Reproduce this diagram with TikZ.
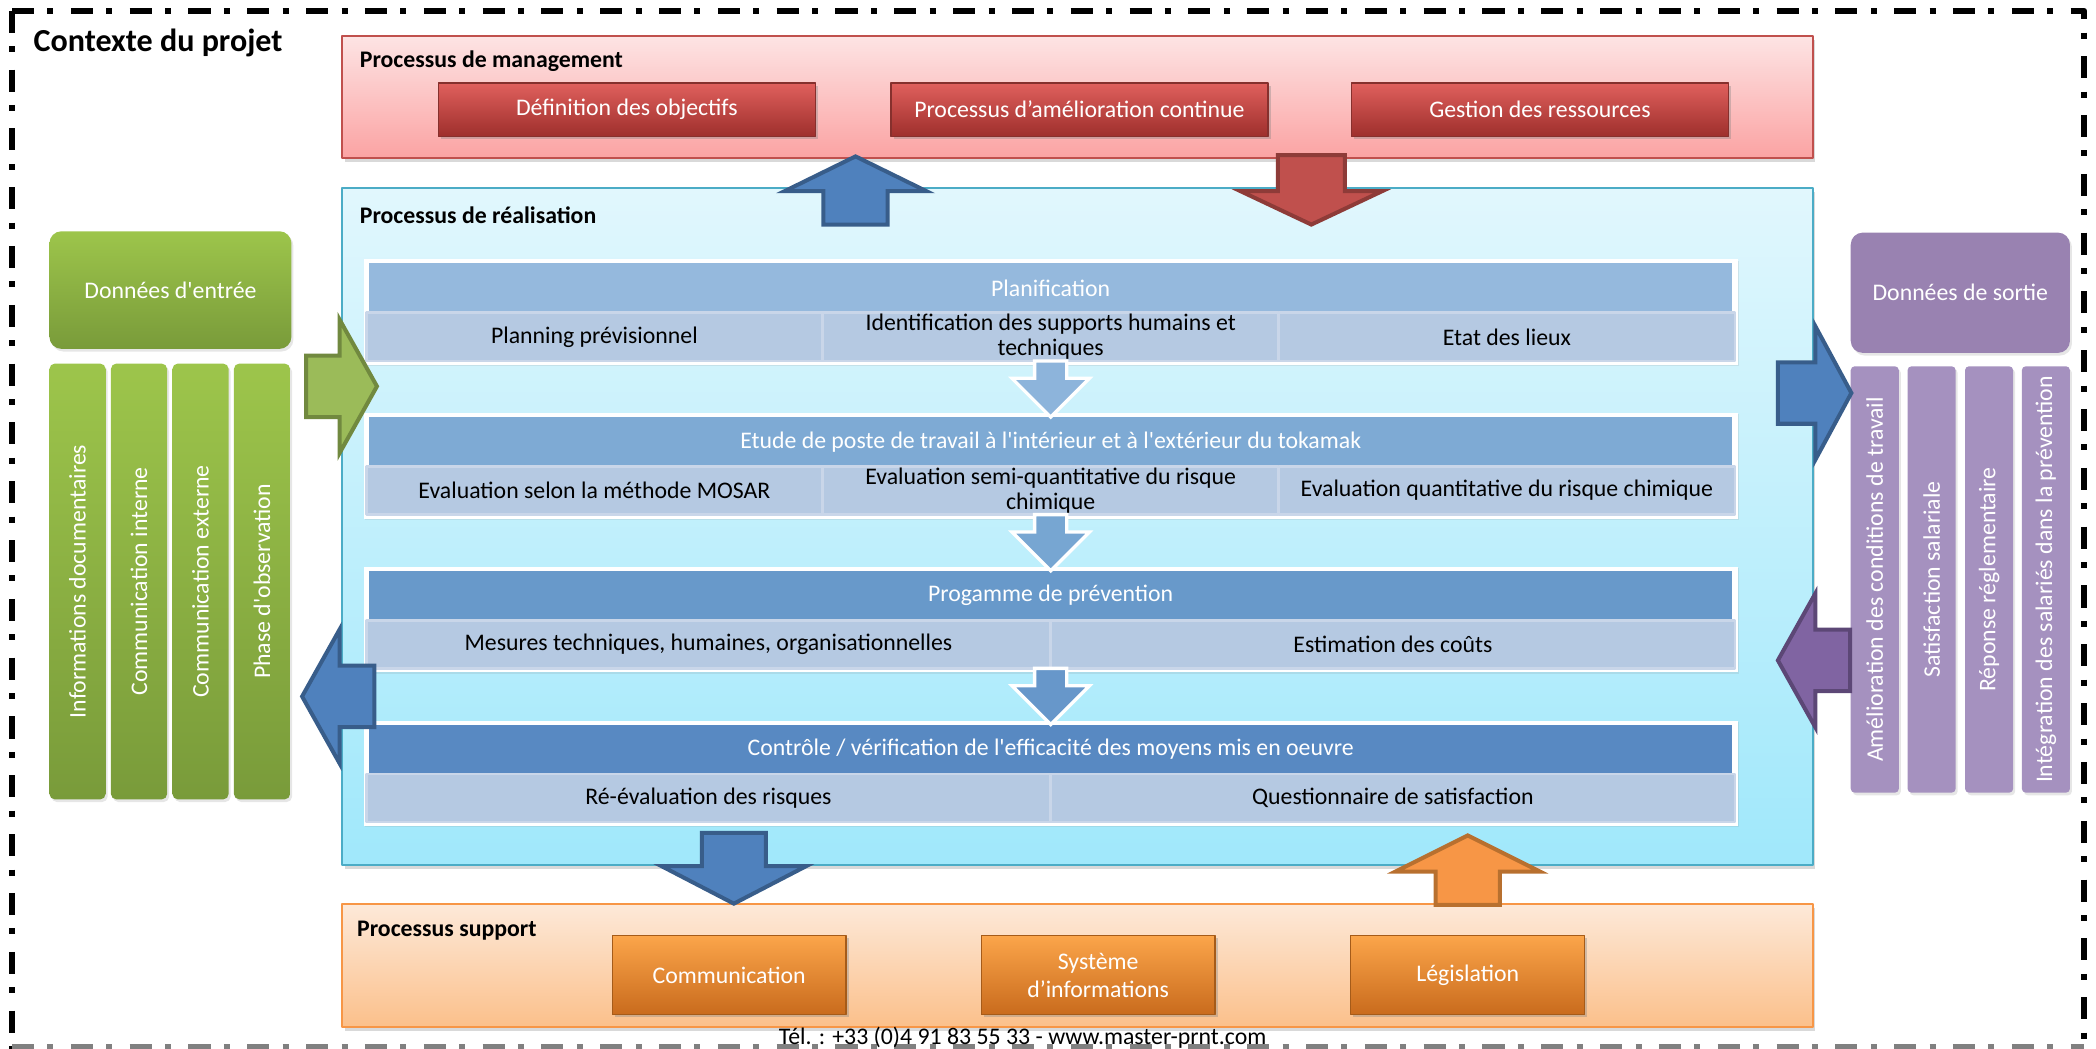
\documentclass[tikz,border=0pt]{standalone}
\usepackage{fontspec}
\setmainfont{Carlito}[Ligatures=TeXOff]
\usepackage{tikz}
\usetikzlibrary{shadows}
\definecolor{cq5q4d}{HTML}{C0504D}
\definecolor{8e3b38}{HTML}{8E3B38}
\definecolor{fde4e4}{HTML}{FDE4E4}
\definecolor{fba3a3}{HTML}{FBA3A3}
\definecolor{e0605d}{HTML}{E0605D}
\definecolor{cd4340}{HTML}{CD4340}
\definecolor{9e2f2c}{HTML}{9E2F2C}
\definecolor{86302d}{HTML}{86302D}
\definecolor{4bacc6}{HTML}{4BACC6}
\definecolor{e1f7fd}{HTML}{E1F7FD}
\definecolor{aqe8fb}{HTML}{A0E8FB}
\definecolor{f79646}{HTML}{F79646}
\definecolor{b8702f}{HTML}{B8702F}
\definecolor{fde9d9}{HTML}{FDE9D9}
\definecolor{fbc08b}{HTML}{FBC08B}
\definecolor{fba54a}{HTML}{FBA54A}
\definecolor{f48d2c}{HTML}{F48D2C}
\definecolor{c96b1d}{HTML}{C96B1D}
\definecolor{a55b19}{HTML}{A55B19}
\definecolor{4f81bd}{HTML}{4F81BD}
\definecolor{385d8a}{HTML}{385D8A}
\definecolor{9bbb59}{HTML}{9BBB59}
\definecolor{71893f}{HTML}{71893F}
\definecolor{8q64a2}{HTML}{8064A2}
\definecolor{5c4776}{HTML}{5C4776}
\definecolor{9dc54b}{HTML}{9DC54B}
\definecolor{799b3a}{HTML}{799B3A}
\definecolor{9982b1}{HTML}{9982B1}
\definecolor{a591bf}{HTML}{A591BF}
\definecolor{95b9dd}{HTML}{95B9DD}
\definecolor{7eaad4}{HTML}{7EAAD4}
\definecolor{6899ca}{HTML}{6899CA}
\definecolor{5889c2}{HTML}{5889C2}
\definecolor{b5c9e2}{HTML}{B5C9E2}
\definecolor{c9d6e9}{HTML}{C9D6E9}
\definecolor{8db4db}{HTML}{8DB4DB}
\definecolor{77a6d2}{HTML}{77A6D2}
\definecolor{6797ca}{HTML}{6797CA}

\begin{document}
\begin{tikzpicture}[line cap=round,line join=round,x=1pt,y=-1pt,
    every node/.style={font=\fontsize{17.8}{19}\selectfont},
    cadre/.style={line width=4.5pt,line cap=butt,dash pattern=on 16.5pt off 10pt on 4.5pt off 13pt},
    zone/.style={draw,line width=1.5pt,drop shadow={opacity=0.3,shadow xshift=2pt,shadow yshift=-3pt}},
    etiquette/.style={anchor=west,inner sep=0pt,font=\bfseries\fontsize{17.8}{19}\selectfont},
    bouton/.style={draw,line width=1pt,text=white,align=center,drop shadow={opacity=0.35,shadow xshift=2pt,shadow yshift=-2pt}},
    boutonrouge/.style={bouton,minimum width=282pt,minimum height=40pt,top color=e0605d,middle color=cd4340,bottom color=9e2f2c,draw=86302d},
    boutonorange/.style={bouton,minimum width=175pt,minimum height=59pt,font=\fontsize{17.8}{21}\selectfont,top color=fba54a,middle color=f48d2c,bottom color=c96b1d,draw=a55b19},
    cadreblanc/.style={fill=white,minimum width=1028pt,minimum height=79pt,drop shadow={opacity=0.15,shadow xshift=1pt,shadow yshift=-1pt}},
    entete/.style={text=white,minimum width=1020pt,minimum height=37pt,inner sep=0pt},
    cellule/.style={fill=b5c9e2,draw=c9d6e9,line width=2pt,minimum height=36pt,inner sep=0pt,align=center,font=\fontsize{17.8}{18.5}\selectfont},
    colonne/.style={text=white,inner sep=0pt,rounded corners=4pt,drop shadow={opacity=0.2,shadow xshift=1.5pt,shadow yshift=-2pt}},
    fleche/.style={line width=3pt,line join=miter},
    petitefleche/.style={draw=white,line width=2.5pt,line join=miter}]
\useasboundingbox (0,0) rectangle (1568,784);

% cadre du contexte
\draw[cadre] (9,8) -- (1559,8) -- (1559,790);
\draw[cadre] (9,8) -- (9,790);
\draw[cadre,color=gray] (9,783) -- (1559,783);
\node[anchor=west,inner sep=0pt,font=\bfseries\fontsize{24}{28}\selectfont] (contexte) at (25,32) {Contexte du projet};

% processus de management
\node[zone,draw=cq5q4d,top color=fde4e4,bottom color=fba3a3,minimum width=1100pt,minimum height=91pt] (management) at (806,72.5) {};
\node[etiquette] (titremanagement) at (269,46) {Processus de management};
\node[boutonrouge] (objectifs) at (469,82) {Définition des objectifs};
\node[boutonrouge] (amelioration) at (807.5,82) {Processus d’amélioration continue};
\node[boutonrouge] (ressources) at (1152,82) {Gestion des ressources};

% processus de realisation
\node[zone,draw=4bacc6,top color=e1f7fd,bottom color=aqe8fb,minimum width=1100pt,minimum height=506pt] (realisation) at (806,394) {};
\node[etiquette] (titrerealisation) at (269,161) {Processus de réalisation};

\node[cadreblanc] (bloc1) at (786,233.5) {};
\node[entete,fill=95b9dd] (planification) at (786,215.5) {Planification};
\node[cellule,minimum width=341pt] (planning) at (444.7,252) {Planning prévisionnel};
\node[cellule,minimum width=341pt] (supports) at (786,252) {Identification des supports humains et\\techniques};
\node[cellule,minimum width=341pt] (lieux) at (1127.3,252) {Etat des lieux};

\node[cadreblanc] (bloc2) at (786,348.5) {};
\node[entete,fill=7eaad4] (etude) at (786,330.5) {Etude de poste de travail à l'intérieur et à l'extérieur du tokamak};
\node[cellule,minimum width=341pt] (mosar) at (444.7,367) {Evaluation selon la méthode MOSAR};
\node[cellule,minimum width=341pt] (semiquanti) at (786,367) {Evaluation semi-quantitative du risque\\chimique};
\node[cellule,minimum width=341pt] (quanti) at (1127.3,367) {Evaluation quantitative du risque chimique};

\node[cadreblanc] (bloc3) at (786,463.5) {};
\node[entete,fill=6899ca] (prevention) at (786,445.5) {Progamme de prévention};
\node[cellule,minimum width=512pt] (mesures) at (530,482) {Mesures techniques, humaines, organisationnelles};
\node[cellule,minimum width=512pt] (couts) at (1042,482) {Estimation des coûts};

\node[cadreblanc] (bloc4) at (786,578.5) {};
\node[entete,fill=5889c2] (controle) at (786,560.5) {Contrôle / vérification de l'efficacité des moyens mis en oeuvre};
\node[cellule,minimum width=512pt] (reevaluation) at (530,597) {Ré-évaluation des risques};
\node[cellule,minimum width=512pt] (questionnaire) at (1042,597) {Questionnaire de satisfaction};

\foreach \t/\c in {194/8db4db,309/77a6d2,424/6797ca}
  \filldraw[petitefleche,fill=\c] (774,\t+76) -- (798,\t+76) -- (798,\t+89) -- (815,\t+89) -- (786,\t+118) -- (757,\t+89) -- (774,\t+89) -- cycle;

% processus support
\node[zone,draw=f79646,top color=fde9d9,bottom color=fbc08b,minimum width=1100pt,minimum height=92pt] (support) at (806,722) {};
\node[etiquette] (titresupport) at (267,696) {Processus support};
\node[boutonorange] (communication) at (545.5,729.5) {Communication};
\node[boutonorange] (systeme) at (821.5,729.5) {Système\\d’informations};
\node[boutonorange] (legislation) at (1098,729.5) {Législation};

% fleches entre processus
\filldraw[fleche,fill=4f81bd,draw=385d8a] (616,168) -- (616,143) -- (587,143) -- (640,117) -- (693,143) -- (664,143) -- (664,168) -- cycle;
\filldraw[fleche,fill=cq5q4d,draw=8e3b38] (956,116) -- (1006,116) -- (1006,143) -- (1034,143) -- (981,168) -- (928,143) -- (956,143) -- cycle;
\filldraw[fleche,fill=4f81bd,draw=385d8a] (525,623) -- (573,623) -- (573,648) -- (603,648) -- (549,676) -- (495,648) -- (525,648) -- cycle;
\filldraw[fleche,fill=f79646,draw=b8702f] (1074,677) -- (1074,652) -- (1044,652) -- (1098,625) -- (1152,652) -- (1122,652) -- (1122,677) -- cycle;

% donnees d'entree
\node[colonne,top color=9dc54b,bottom color=799b3a,rounded corners=9pt,minimum width=181pt,minimum height=88pt] (entree) at (127.5,217) {Données d'entrée};
\foreach \x/\txt/\nom in {58/Informations documentaires/infos,104/Communication interne/interne,150/Communication externe/externe,196/Phase d'observation/observation}
  \node[colonne,top color=9dc54b,bottom color=799b3a,minimum width=42pt,minimum height=326pt] (\nom) at (\x,435) {\rotatebox{90}{\txt}};
\filldraw[fleche,fill=9bbb59,draw=71893f] (229,266) -- (254,266) -- (254,239) -- (282,289) -- (254,339) -- (254,312) -- (229,312) -- cycle;
\filldraw[fleche,fill=4f81bd,draw=385d8a] (280,498) -- (254,498) -- (254,471) -- (226,521) -- (254,571) -- (254,544) -- (280,544) -- cycle;

% donnees de sortie
\node[colonne,fill=9982b1,rounded corners=9pt,minimum width=164pt,minimum height=90pt] (sortie) at (1466.5,219) {Données de sortie};
\foreach \x/\txt/\nom in {1402.5/Amélioration des conditions de travail/conditions,1445/Satisfaction salariale/satisfaction,1488/Réponse réglementaire/reponse,1530.5/Intégration des salariés dans la prévention/integration}
  \node[colonne,fill=a591bf,rounded corners=3pt,minimum width=36pt,minimum height=319pt] (\nom) at (\x,433.5) {\rotatebox{90}{\txt}};
\filldraw[fleche,fill=4f81bd,draw=385d8a] (1330,271) -- (1358,271) -- (1358,244) -- (1385,294) -- (1358,344) -- (1358,317) -- (1330,317) -- cycle;
\filldraw[fleche,fill=8q64a2,draw=5c4776] (1384,471) -- (1358,471) -- (1358,444) -- (1330,494) -- (1358,544) -- (1358,517) -- (1384,517) -- cycle;

\node (contact) at (765,776) {Tél. : +33 (0)4 91 83 55 33 - www.master-prnt.com};
\end{tikzpicture}
\end{document}
